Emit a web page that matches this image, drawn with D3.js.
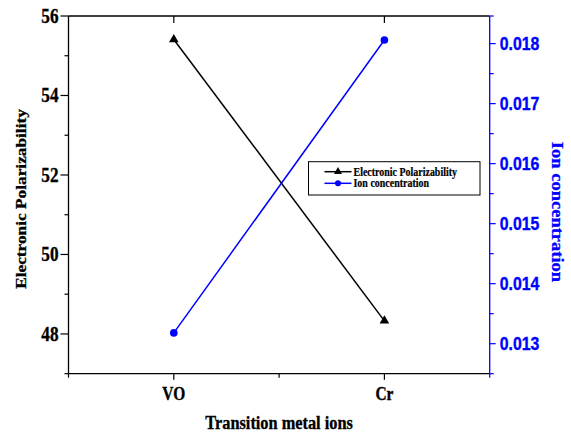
<!DOCTYPE html>
<html>
<head>
  <meta charset="UTF-8">
  <title>Polarizability vs ion concentration</title>
  <style>
    body { margin: 0; background: #fff; }
    .serif { font-family: "Liberation Serif", "Times New Roman", serif; font-weight: 700; }
    .sans { font-family: "Liberation Sans", Arial, sans-serif; font-weight: 700; }
  </style>
</head>
<body>
<svg id="chart" width="571" height="434"></svg>

<script src="https://cdnjs.cloudflare.com/ajax/libs/d3/7.8.5/d3.min.js"></script>
<script>
  // data
  const ions = ["VO", "Cr"];
  const polarizability = [55.41, 48.33];
  const ionConc = [0.01318, 0.01806];
  const leftTicks = [48, 50, 52, 54, 56];
  const rightTicks = [0.013, 0.014, 0.015, 0.016, 0.017, 0.018];

  const blue = "#0000ff";
  const sq = 0.86; // the original text is a bit narrow

  const margin = {left: 68.5, right: 81.3, top: 16, bottom: 60.3};
  const W = 571, H = 434;
  const x0 = margin.left, x1 = W - margin.right;
  const y0 = margin.top, y1 = H - margin.bottom;

  const svg = d3.select("#chart");

  // scales
  const xScale = d3.scaleBand().domain(ions).range([x0, x1]).paddingInner(0).paddingOuter(0);
  const xc = d => xScale(d) + xScale.bandwidth() / 2;
  const yLeft = d3.scaleLinear().domain([47, 56]).range([y1, y0]);
  const yRight = d3.scaleLinear().domain([0.0125, 0.01846]).range([y1, y0]);

  // heavier text, like the original
  function bold(t, color) {
    return t.attr("font-weight", "bold").attr("fill", color)
      .attr("stroke", color).attr("stroke-width", 0.35);
  }

  // frame: top, left and bottom are black, right is blue
  svg.append("line").attr("x1", x0).attr("x2", x1).attr("y1", y0).attr("y2", y0)
    .attr("stroke", "#000").attr("stroke-width", 1.3);
  svg.append("line").attr("x1", x0).attr("x2", x1).attr("y1", y1).attr("y2", y1)
    .attr("stroke", "#000").attr("stroke-width", 1.3);
  svg.append("line").attr("x1", x0).attr("x2", x0).attr("y1", y0).attr("y2", y1)
    .attr("stroke", "#000").attr("stroke-width", 1.3);
  svg.append("line").attr("x1", x1).attr("x2", x1).attr("y1", y0).attr("y2", y1)
    .attr("stroke", blue).attr("stroke-width", 1.3);

  // left axis ticks
  const leftMinor = d3.range(47, 56, 2);
  leftMinor.forEach(v => {
    svg.append("line").attr("x1", x0 - 4).attr("x2", x0).attr("y1", yLeft(v)).attr("y2", yLeft(v))
      .attr("stroke", "#000").attr("stroke-width", 1.2);
  });
  leftTicks.forEach(v => {
    svg.append("line").attr("x1", x0 - 8).attr("x2", x0).attr("y1", yLeft(v)).attr("y2", yLeft(v))
      .attr("stroke", "#000").attr("stroke-width", 1.2);
    bold(svg.append("text").attr("class", "serif"), "#000")
      .attr("transform", "translate(" + (x0 - 10) + "," + (yLeft(v) + 7) + ") scale(" + sq + ",1)")
      .attr("text-anchor", "end").attr("font-size", 20).text(v);
  });

  // right axis ticks
  const rightMinor = d3.range(0.0125, 0.0185, 0.001);
  rightMinor.forEach(v => {
    svg.append("line").attr("x1", x1).attr("x2", x1 + 4).attr("y1", yRight(v)).attr("y2", yRight(v))
      .attr("stroke", blue).attr("stroke-width", 1.2);
  });
  svg.append("line").attr("x1", x1).attr("x2", x1 + 4).attr("y1", y0).attr("y2", y0)
    .attr("stroke", blue).attr("stroke-width", 1.2);
  rightTicks.forEach(v => {
    svg.append("line").attr("x1", x1).attr("x2", x1 + 6).attr("y1", yRight(v)).attr("y2", yRight(v))
      .attr("stroke", blue).attr("stroke-width", 1.2);
    bold(svg.append("text").attr("class", "sans"), blue)
      .attr("transform", "translate(" + (x1 + 10) + "," + (yRight(v) + 6.5) + ") scale(" + 0.88 + ",1)")
      .attr("font-size", 18).text(v.toFixed(3));
  });

  // bottom axis: majors at categories, minors at band edges
  ions.forEach(c => {
    svg.append("line").attr("x1", xc(c)).attr("x2", xc(c)).attr("y1", y1).attr("y2", y1 + 6)
      .attr("stroke", "#000").attr("stroke-width", 1.2);
    svg.append("line").attr("x1", xc(c)).attr("x2", xc(c)).attr("y1", y0).attr("y2", y0 + 7)
      .attr("stroke", "#000").attr("stroke-width", 1.2);
    bold(svg.append("text").attr("class", "serif"), "#000")
      .attr("transform", "translate(" + xc(c) + "," + (y1 + 26) + ") scale(" + sq + ",1)")
      .attr("text-anchor", "middle").attr("font-size", 18).text(c);
  });
  [x0, (x0 + x1) / 2, x1].forEach((xx, i) => {
    svg.append("line").attr("x1", xx).attr("x2", xx).attr("y1", y1).attr("y2", y1 + 4)
      .attr("stroke", i === 2 ? blue : "#000").attr("stroke-width", 1.2);
  });

  // axis titles
  bold(svg.append("text").attr("class", "serif"), "#000")
    .attr("transform", "translate(" + ((x0 + x1) / 2) + "," + 429 + ") scale(" + sq + ",1)")
    .attr("text-anchor", "middle").attr("font-size", 19).text("Transition metal ions");
  bold(svg.append("text").attr("class", "serif"), "#000")
    .attr("transform", "translate(26,199) rotate(-90) scale(1," + sq + ")")
    .attr("text-anchor", "middle").attr("font-size", 17.3).text("Electronic Polarizability");
  bold(svg.append("text").attr("class", "serif"), blue)
    .attr("transform", "translate(552,212) rotate(90) scale(1," + sq + ")")
    .attr("text-anchor", "middle").attr("font-size", 18.5).text("Ion concentration");

  // series
  const linePol = d3.line().x((d, i) => xc(ions[i])).y(d => yLeft(d));
  const lineIon = d3.line().x((d, i) => xc(ions[i])).y(d => yRight(d));

  svg.append("path").datum(polarizability).attr("d", linePol)
    .attr("fill", "none").attr("stroke", "#000").attr("stroke-width", 1.5);
  svg.append("path").datum(ionConc).attr("d", lineIon)
    .attr("fill", "none").attr("stroke", blue).attr("stroke-width", 1.5);

  const tri = d3.symbol().type(d3.symbolTriangle).size(40);
  svg.selectAll(".tri").data(polarizability).enter().append("path")
    .attr("class", "tri").attr("d", tri).attr("fill", "#000")
    .attr("transform", (d, i) => "translate(" + xc(ions[i]) + "," + yLeft(d) + ")");
  svg.selectAll(".dot").data(ionConc).enter().append("circle")
    .attr("class", "dot").attr("r", 3.8).attr("fill", blue)
    .attr("cx", (d, i) => xc(ions[i])).attr("cy", d => yRight(d));

  // legend
  const lg = svg.append("g").attr("transform", "translate(308.5,161.7)");
  lg.append("rect").attr("width", 171.5).attr("height", 33.3)
    .attr("fill", "#fff").attr("stroke", "#000").attr("stroke-width", 1);
  const legendItems = [
    {name: "Electronic Polarizability", color: "#000", mark: "tri"},
    {name: "Ion concentration", color: blue, mark: "dot"}
  ];
  legendItems.forEach((it, i) => {
    const yy = 10 + i * 11.6;
    lg.append("line").attr("x1", 16).attr("x2", 43).attr("y1", yy).attr("y2", yy)
      .attr("stroke", it.color).attr("stroke-width", 1.5);
    if (it.mark === "tri") {
      lg.append("path").attr("d", d3.symbol().type(d3.symbolTriangle).size(28))
        .attr("transform", "translate(29.5," + yy + ")").attr("fill", it.color);
    } else {
      lg.append("circle").attr("cx", 29.5).attr("cy", yy).attr("r", 3).attr("fill", it.color);
    }
    bold(lg.append("text").attr("class", "serif"), "#000")
      .attr("stroke-width", 0.2)
      .attr("transform", "translate(45," + (yy + 4) + ") scale(" + sq + ",1)")
      .attr("font-size", 11.6).text(it.name);
  });
</script>
</body>
</html>
